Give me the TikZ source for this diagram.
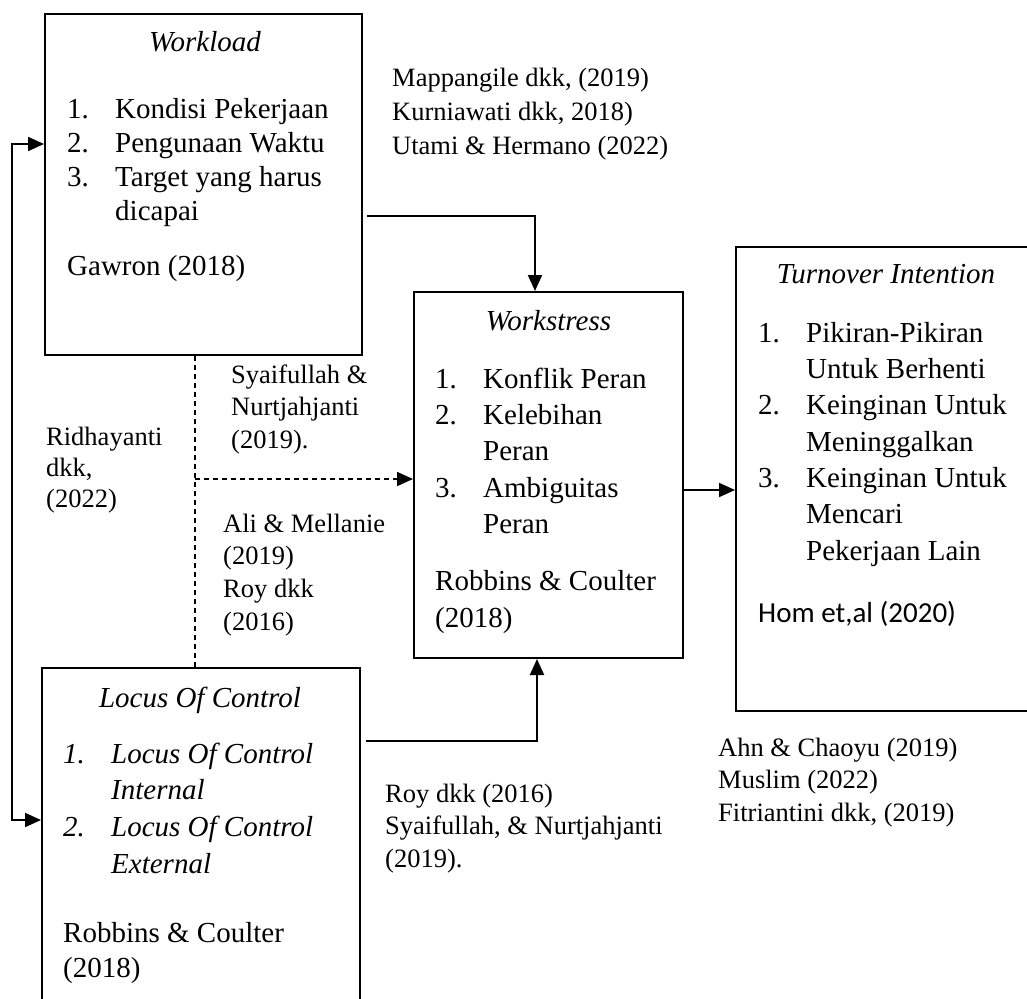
\documentclass[tikz,border=0pt]{standalone}
\usepackage{fontspec}
\setmainfont{Liberation Serif}
\newfontfamily\calibri{Carlito}
\usetikzlibrary{arrows.meta,positioning}

\newcommand{\bfont}[1]{\fontsize{29}{#1}\selectfont}
\newcommand{\cfont}[1]{\fontsize{26.5}{#1}\selectfont}
\newcommand{\numlab}[1]{\makebox[48pt][l]{#1}}
\newcommand{\hang}{\hspace*{48pt}}

\begin{document}
\begin{tikzpicture}[x=1pt,y=-1pt,>={Triangle[length=16pt,width=14pt]},
	box/.style={draw,line width=2pt,inner sep=0pt},
	title/.style={anchor=base,inner sep=0pt,font=\bfont{35}\itshape},
	single/.style={anchor=base west,inner sep=0pt,font=\bfont{35}},
	txt/.style={anchor=north west,inner sep=0pt,align=left,font=\bfont{#1}},
	cit/.style={anchor=north west,inner sep=0pt,align=left,font=\cfont{#1}},
	conn/.style={line width=2pt,->},
	dline/.style={line width=1.6pt,dash pattern=on 5pt off 4pt}]
	\useasboundingbox (0,0) rectangle (1027,998);

	% boxes
	\node[box,minimum width=317pt,minimum height=341pt] (wl) at (203.5,184.5) {};
	\node[box,minimum width=269pt,minimum height=366pt] (ws) at (548.5,475) {};
	\node[box,minimum width=300pt,minimum height=464pt] (to) at (886,479) {};
	\node[box,minimum width=318pt,minimum height=342pt] (lc) at (201,839) {};

	% workload
	\node[title] (wlt) at (205,52) {Workload};
	\node[txt=34] (wli) at (67,94.2) {\strut\numlab{1.}Kondisi Pekerjaan\\
		\numlab{2.}Pengunaan Waktu\\\numlab{3.}Target yang harus\\\hang dicapai};
	\node[single] (wlc) at (67,275) {Gawron (2018)};

	% workstress
	\node[title] (wst) at (548.5,330) {Workstress};
	\node[txt=36.3] (wsi) at (435,362.6) {\strut\numlab{1.}Konflik Peran\\
		\numlab{2.}Kelebihan\\\hang Peran\\\numlab{3.}Ambiguitas\\\hang Peran};
	\node[txt=37] (wsc) at (435,564.1) {\strut Robbins \& Coulter\\(2018)};

	% turnover intention
	\node[title] (tot) at (886,283) {Turnover Intention};
	\node[txt=36.3] (toi) at (758,316.6) {\strut\numlab{1.}Pikiran-Pikiran\\
		\hang Untuk Berhenti\\\numlab{2.}Keinginan Untuk\\\hang Meninggalkan\\
		\numlab{3.}Keinginan Untuk\\\hang Mencari\\\hang Pekerjaan Lain};
	\node[single,font=\bfont{35}\calibri] (toc) at (758,622) {Hom et,al (2020)};

	% locus of control
	\node[title] (lct) at (200,707) {Locus Of Control};
	\node[txt=36.7,font=\bfont{36.7}\itshape] (lci) at (63,737.3) {\strut\numlab{1.}Locus Of Control\\
		\hang Internal\\\numlab{2.}Locus Of Control\\\hang External};
	\node[txt=35] (lcc) at (63,917.5) {\strut Robbins \& Coulter\\(2018)};

	% citations
	\node[cit=34] (c1) at (392,62.2) {\strut Mappangile dkk, (2019)\\Kurniawati dkk, 2018)\\Utami \& Hermano (2022)};
	\node[cit=32.5] (c2) at (231,360.3) {\strut Syaifullah \&\\Nurtjahjanti\\(2019).};
	\node[cit=31] (c3) at (46,423.3) {\strut Ridhayanti\\dkk,\\(2022)};
	\node[cit=32.7] (c4) at (223,509.1) {\strut Ali \& Mellanie\\(2019)\\Roy dkk\\(2016)};
	\node[cit=32.5] (c5) at (385,779.3) {\strut Roy dkk (2016)\\Syaifullah, \& Nurtjahjanti\\(2019).};
	\node[cit=32.5] (c6) at (718,733.3) {\strut Ahn \& Chaoyu (2019)\\Muslim (2022)\\Fitriantini dkk, (2019)};

	% connectors
	\coordinate (wsout) at ([shift={(0,15)}]ws.east);
	\coordinate (wsin) at ([shift={(0,4)}]ws.west);
	\coordinate (dtop) at ([xshift=-8.5pt]wl.south);
	\coordinate (fbtop) at ([shift={(0,131)}]wl.north west);
	\coordinate (fbbot) at ([shift={(0,153)}]lc.north west);

	\draw[conn] ([shift={(4,203)}]wl.north east) -| ([xshift=-13.5pt]ws.north);
	\draw[conn] ([shift={(5,74)}]lc.north east) -| ([xshift=-11.5pt]ws.south);
	\draw[conn] (wsout) -- (wsout -| to.west);
	\draw[conn,<->] (fbtop) -- ++(-32,0) |- (fbbot);
	\draw[dline] (dtop) -- (dtop |- lc.north);
	\draw[dline,->] (dtop |- wsin) -- (wsin);
\end{tikzpicture}
\end{document}
